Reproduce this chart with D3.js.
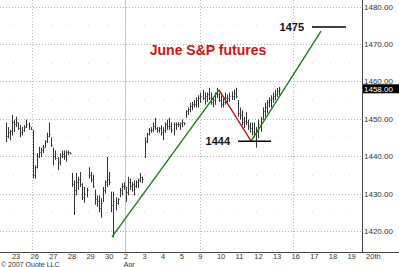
<!DOCTYPE html>
<html>
<head>
<meta charset="utf-8">
<script src="https://cdn.jsdelivr.net/npm/d3@7/dist/d3.min.js"></script>
<style>
  body { margin: 0; background: #fff; }
  svg { display: block; font-family: "Liberation Sans", Arial, sans-serif; }
</style>
</head>
<body>
<div id="chart"></div>
<script>
// trading days shown on the bottom axis (index 0 = Mar 23)
var dayLabels = ["23", "26", "27", "28", "29", "30", "2", "3", "4", "5", "9", "10", "11", "12", "13", "16", "17", "18", "19", "20th"];
var weekStarts = [1, 10, 15];   // Mondays -> dotted lines
var monthStart = 6;             // Apr 2 -> solid line
var priceTicks = [1420, 1430, 1440, 1450, 1460, 1470, 1480];
var lastPrice = 1458;

// intraday bars, 9 per day
var hi = [1449, 1447.75, 1447, 1451, 1449.75, 1450.5, 1449, 1448.25, 1447.75, 1448.25, 1449.75, 1449, 1447.75,
  1447, 1437.5, 1440.75, 1442.5, 1442.25, 1443, 1444.25, 1446.25, 1449, 1445,
  1442.25, 1441.5, 1439.75, 1440.75, 1441.5, 1441.5, 1441.5, 1441.5, 1441,
  1435.5, 1433.5, 1435.5, 1434.5, 1435.75, 1432.75, 1431.75, 1431.5,
  1437, 1435.75, 1435, 1431, 1429.5, 1429.5, 1428.75, 1431.75, 1433.5,
  1439.75, 1435.75, 1430.5, 1430.5, 1429, 1428.75, 1431.5, 1432.75, 1433, 1431.75,
  1434.5, 1434, 1433, 1433.5, 1433.5, 1434, 1435.5, 1434.5,
  1445, 1446.25, 1447.5, 1447.75, 1449, 1450.25, 1447.75, 1447.75, 1448.25,
  1447.75, 1449, 1449.75, 1450.25, 1449, 1449, 1449, 1449, 1449,
  1449.75, 1449, 1452.25, 1453, 1454.25, 1454.5, 1455, 1455.75, 1456.25,
  1457, 1457.75, 1457, 1457, 1458.25, 1457, 1455.75, 1457, 1458.25,
  1457, 1456.25, 1455.5, 1457, 1456.5, 1457, 1457.25, 1457.75, 1458.25,
  1455, 1453, 1452.25, 1450.5, 1451.75, 1449.75, 1449, 1449, 1449,
  1447.75, 1449.75, 1450.5, 1453, 1454.25, 1455, 1455.75, 1456.25, 1457,
  1457.75, 1458.25, 1458.5];
var lo = [1443.75, 1444.75, 1444.25, 1445.5, 1446.5, 1447.75, 1447, 1445, 1445.5, 1446.5, 1447.5, 1447, 1447,
  1434, 1434, 1436.75, 1439.5, 1439.75, 1440.75, 1442.25, 1443.5, 1445, 1442.5,
  1437.5, 1439, 1436.25, 1437.5, 1439.5, 1439, 1438.5, 1440.25, 1440.5,
  1431.75, 1424.25, 1429.5, 1431, 1431.75, 1428.25, 1427.5, 1429,
  1434, 1433, 1431.5, 1427, 1426.5, 1425, 1423.5, 1427.75, 1430,
  1431.75, 1432.25, 1425, 1418.25, 1425.5, 1427, 1429, 1429.5, 1431, 1427.75,
  1429.5, 1431, 1430.5, 1429.5, 1431.5, 1431.5, 1433, 1432.75,
  1439.5, 1443.5, 1445.5, 1446.25, 1446.5, 1447, 1446.25, 1446.25, 1445.5,
  1444.25, 1446.25, 1447, 1447, 1446.25, 1445.5, 1447, 1447.75, 1447,
  1447.75, 1448.25, 1450.25, 1451, 1451.75, 1452.25, 1453, 1453, 1453,
  1454.25, 1455, 1453.75, 1454.5, 1455, 1453.75, 1453, 1453.75, 1455.5,
  1454.5, 1453, 1453, 1453.75, 1454, 1454.5, 1455, 1455, 1455.5,
  1450.5, 1449.75, 1448.25, 1447.5, 1448.25, 1447, 1446.25, 1445.5, 1445,
  1442.25, 1444.75, 1446.5, 1449.75, 1450.5, 1451.5, 1453, 1453, 1454.25,
  1455, 1455.75, 1456.25];
var cl = [1445.5, 1446.5, 1446.75, 1449, 1448.5, 1449, 1447.5, 1446.5, 1447, 1447.75, 1448.5, 1448, 1447.25,
  1435, 1437, 1440, 1441, 1441.5, 1442.5, 1444, 1445.5, 1446, 1443,
  1440, 1439.5, 1438.5, 1440, 1440.5, 1440, 1441, 1441, 1440.75,
  1432.5, 1431, 1433, 1434, 1432.5, 1429, 1430, 1431,
  1435, 1434, 1432, 1428.5, 1428, 1426, 1427.5, 1431, 1433,
  1434, 1433, 1427, 1428, 1427.5, 1428.5, 1431, 1432, 1432, 1430.5,
  1433, 1432, 1432.5, 1432, 1433, 1433.5, 1434.5, 1434,
  1444, 1446, 1447, 1447, 1448, 1447.5, 1447, 1447.5, 1446.5,
  1447, 1448.5, 1448, 1448, 1447, 1448.5, 1448.5, 1448.5, 1448.75,
  1449, 1448.75, 1452, 1452.5, 1453.5, 1454, 1454, 1455, 1455.5,
  1456, 1455.5, 1456, 1456.5, 1455.5, 1454.5, 1455, 1456.5, 1456.5,
  1455, 1454, 1454.5, 1455.5, 1455.5, 1456, 1456, 1457, 1456,
  1451.5, 1451, 1449, 1449.5, 1449, 1448, 1447.5, 1446.5, 1446,
  1446.5, 1448.5, 1450, 1452, 1453, 1454.5, 1455, 1455.5, 1456,
  1456.5, 1457.5, 1458];
var barStart = -0.41, barStep = 1 / 9;   // in trading days

// hand-drawn trend lines and targets: [day, price]
var greenUp1 = [[5.29, 1418.4], [11.03, 1457.7]];
var redDown = [[11.03, 1457.7], [12.75, 1444]];
var greenUp2 = [[12.75, 1444], [16.5, 1473.4]];
var targets = [
  {label: "1444", from: 12.05, to: 13.82, price: 1444},
  {label: "1475", from: 16.02, to: 17.84, price: 1474.5}
];
var title = "June S&P futures";

var width = 399, height = 267, plotRight = 362, plotBottom = 252;

var svg = d3.select("#chart").append("svg")
    .attr("width", width)
    .attr("height", height);

var x = d3.scaleLinear().domain([0, 19]).range([13.4, 367.6]);
var y = d3.scaleLinear().domain([1420, 1480]).range([230.9, 6.5]);

// grid
var grid = svg.append("g");
grid.selectAll(".hgrid")
    .data(priceTicks)
  .enter().append("line")
    .attr("x1", 0).attr("x2", plotRight)
    .attr("y1", function(d) { return Math.round(y(d)) + 0.5; })
    .attr("y2", function(d) { return Math.round(y(d)) + 0.5; })
    .attr("stroke", "#b4b4b4")
    .attr("stroke-dasharray", "1,2");

grid.selectAll(".vgrid")
    .data(weekStarts)
  .enter().append("line")
    .attr("x1", function(d) { return Math.round(x(d)) + 0.5; })
    .attr("x2", function(d) { return Math.round(x(d)) + 0.5; })
    .attr("y1", 0).attr("y2", plotBottom)
    .attr("stroke", "#bdbdbd")
    .attr("stroke-dasharray", "1,2");

grid.append("line")
    .attr("x1", Math.round(x(monthStart)) + 0.5)
    .attr("x2", Math.round(x(monthStart)) + 0.5)
    .attr("y1", 0).attr("y2", plotBottom)
    .attr("stroke", "#c4c4c4");

// faint half-level dots at each day boundary
var halfLevels = d3.range(1425, 1480, 10);
var dots = [];
halfLevels.forEach(function(p) {
  d3.range(0, 19).forEach(function(i) { dots.push([i, p]); });
});
grid.selectAll(".dot")
    .data(dots)
  .enter().append("rect")
    .attr("x", function(d) { return Math.round(x(d[0])); })
    .attr("y", function(d) { return Math.round(y(d[1])); })
    .attr("width", 1).attr("height", 1)
    .attr("fill", "#d8d8d8");

// price bars
var bars = svg.append("g").attr("stroke", "#333").attr("stroke-width", 1);
hi.forEach(function(h, i) {
  var bx = Math.round(x(barStart + i * barStep)) + 0.5;
  bars.append("line")
    .attr("x1", bx).attr("x2", bx)
    .attr("y1", y(h)).attr("y2", y(lo[i]));
  bars.append("line")
    .attr("x1", bx).attr("x2", bx + 1)
    .attr("y1", Math.round(y(cl[i])) + 0.5).attr("y2", Math.round(y(cl[i])) + 0.5);
});

// trend lines
var line = d3.line()
    .x(function(d) { return x(d[0]); })
    .y(function(d) { return y(d[1]); });

[[greenUp1, "#1f7a1f"], [redDown, "#b3161b"], [greenUp2, "#1f7a1f"]].forEach(function(t) {
  svg.append("path")
    .attr("d", line(t[0]))
    .attr("fill", "none")
    .attr("stroke", t[1])
    .attr("stroke-width", 1.4);
});

// target levels
var tg = svg.selectAll(".target")
    .data(targets)
  .enter().append("g");
tg.append("line")
    .attr("x1", function(d) { return x(d.from); })
    .attr("x2", function(d) { return x(d.to); })
    .attr("y1", function(d) { return y(d.price); })
    .attr("y2", function(d) { return y(d.price); })
    .attr("stroke", "#000")
    .attr("stroke-width", 1.5);
tg.append("text")
    .attr("x", function(d) { return x(d.from) - 8; })
    .attr("y", function(d) { return y(d.price) + 4; })
    .attr("text-anchor", "end")
    .attr("font-size", 11)
    .attr("font-weight", "bold")
    .attr("fill", "#111")
    .text(function(d) { return d.label; });

// title
svg.append("text")
    .attr("x", 208)
    .attr("y", 55)
    .attr("text-anchor", "middle")
    .attr("font-size", 14)
    .attr("font-weight", "bold")
    .attr("fill", "#cc1414")
    .text(title);

// frame
svg.append("line")
    .attr("x1", plotRight + 0.5).attr("x2", plotRight + 0.5)
    .attr("y1", 0).attr("y2", plotBottom)
    .attr("stroke", "#444");
svg.append("line")
    .attr("x1", 0).attr("x2", width)
    .attr("y1", plotBottom + 0.5).attr("y2", plotBottom + 0.5)
    .attr("stroke", "#444");

// right price axis
var fmt = d3.format(".2f");
svg.selectAll(".ptick")
    .data(priceTicks)
  .enter().append("text")
    .attr("x", plotRight + 2)
    .attr("y", function(d) { return y(d) + 3; })
    .attr("font-size", 8)
    .attr("fill", "#333")
    .text(function(d) { return fmt(d); });

svg.append("rect")
    .attr("x", plotRight + 1)
    .attr("y", y(lastPrice) - 4.5)
    .attr("width", width - plotRight - 1)
    .attr("height", 9)
    .attr("fill", "#000");
svg.append("text")
    .attr("x", plotRight + 2)
    .attr("y", y(lastPrice) + 3)
    .attr("font-size", 8)
    .attr("fill", "#fff")
    .text(fmt(lastPrice));

// bottom date axis
svg.selectAll(".dtick")
    .data(dayLabels)
  .enter().append("text")
    .attr("x", function(d, i) { return x(i) - 1.5; })
    .attr("y", 258.5)
    .attr("font-size", 7.5)
    .attr("fill", "#333")
    .text(function(d) { return d; });

svg.append("text")
    .attr("x", x(monthStart) - 1.5)
    .attr("y", 266.5)
    .attr("font-size", 7)
    .attr("fill", "#333")
    .text("Apr");

svg.append("text")
    .attr("x", 1)
    .attr("y", 266.5)
    .attr("font-size", 7)
    .attr("fill", "#333")
    .text("\u00a9 2007 Quote LLC");
</script>
</body>
</html>
